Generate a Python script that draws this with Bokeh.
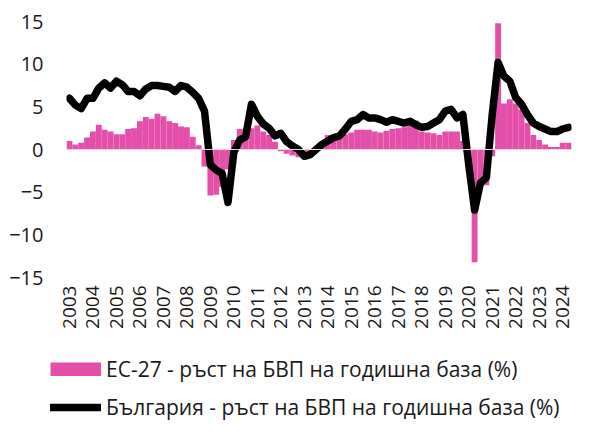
from bokeh.plotting import figure
from bokeh.models import Legend, LegendItem, Span, FixedTicker, Range1d, ColumnDataSource
from bokeh.layouts import column
from bokeh.embed import file_html
from bokeh.resources import INLINE
import math

# --- data (quarterly, 2003Q1 .. 2024Q2) ---
years = list(range(2003, 2025))
quarters = [f"{y}Q{q}" for y in years for q in range(1, 5)][:86]

eu27 = [
    1.0, 0.6, 0.8, 1.4,    # 2003
    2.1, 2.9, 2.3, 2.1,    # 2004
    1.8, 1.8, 2.4, 2.5,    # 2005
    3.3, 3.8, 3.6, 4.2,    # 2006
    3.9, 3.3, 3.1, 2.7,    # 2007
    2.6, 1.5, 0.5, -2.0,   # 2008
    -5.4, -5.3, -4.4, -2.3,  # 2009
    1.1, 2.4, 2.5, 2.5,    # 2010
    2.8, 2.1, 1.7, 0.9,    # 2011
    -0.2, -0.5, -0.7, -0.9,  # 2012
    -1.0, -0.3, 0.2, 0.6,  # 2013
    1.7, 1.4, 1.6, 1.8,    # 2014
    2.0, 2.3, 2.3, 2.3,    # 2015
    2.1, 2.0, 2.2, 2.4,    # 2016
    2.5, 2.6, 3.0, 3.4,    # 2017
    2.1, 2.0, 1.9, 1.7,    # 2018
    2.1, 2.1, 2.1, 1.0,    # 2019
    -2.6, -13.2, -4.0, -4.2,  # 2020
    -0.8, 14.8, 5.4, 5.9,  # 2021
    5.4, 4.7, 3.1, 1.7,    # 2022
    1.1, 0.6, 0.3, 0.3,    # 2023
    0.8, 0.8,              # 2024
]

bulgaria = [
    6.0, 5.2, 4.8, 6.0,    # 2003
    6.0, 7.2, 7.8, 7.2,    # 2004
    8.0, 7.6, 6.8, 6.8,    # 2005
    6.3, 7.1, 7.5, 7.5,    # 2006
    7.4, 7.3, 6.8, 7.5,    # 2007
    7.3, 6.7, 6.0, 4.5,    # 2008
    -1.8, -2.4, -2.8, -6.2,  # 2009
    -0.3, 1.1, 1.5, 5.3,   # 2010
    3.9, 3.0, 2.5, 1.6,    # 2011
    1.9, 0.9, 0.4, 0.0,    # 2012
    -0.8, -0.6, 0.0, 0.6,  # 2013
    1.0, 1.4, 1.6, 2.4,    # 2014
    3.3, 3.5, 4.1, 3.7,    # 2015
    3.7, 3.5, 3.2, 3.5,    # 2016
    3.3, 3.1, 3.3, 2.9,    # 2017
    2.6, 2.7, 3.1, 3.5,    # 2018
    4.5, 4.7, 3.7, 4.1,    # 2019
    -1.8, -7.1, -3.9, -3.3,  # 2020
    4.1, 10.2, 8.6, 8.0,   # 2021
    6.1, 5.3, 4.1, 3.1,    # 2022
    2.7, 2.4, 2.1, 2.1,    # 2023
    2.4, 2.6,              # 2024
]

year_labels = [str(y) for y in years]
y_ticks = [-15, -10, -5, 0, 5, 10, 15]

label_eu = "ЕС-27 - ръст на БВП на годишна база (%)"
label_bg = "България - ръст на БВП на годишна база (%)"

PINK = "#E44FA9"
FONT = "Open Sans"
TXT = "#1a1a1a"

idx = list(range(len(quarters)))
src = ColumnDataSource(dict(x=idx, q=quarters, eu=eu27, bg=bulgaria))

# ---------------- main chart ----------------
p = figure(
    width=574, height=340,
    min_border_left=66, min_border_right=3, min_border_top=21, min_border_bottom=63,
    x_range=Range1d(-0.5, len(quarters) - 0.5),
    y_range=Range1d(-15, 15),
    output_backend="svg", toolbar_location=None,
)
p.frame_align = False
p.outline_line_color = None
p.grid.visible = False
p.background_fill_color = "white"
p.border_fill_color = "white"

bars = p.vbar(x="x", top="eu", bottom=0, width=1.0, source=src,
              fill_color=PINK, line_color=None)

zero = Span(location=0, dimension="width", line_color="#efd3e4", line_width=1.2)
p.add_layout(zero)

line = p.line(x="x", y="bg", source=src, line_color="black", line_width=7.5,
              line_join="round", line_cap="round")

# y axis
p.yaxis.ticker = FixedTicker(ticks=y_ticks)
p.yaxis.axis_line_color = None
p.yaxis.major_tick_line_color = None
p.yaxis.minor_tick_line_color = None
p.yaxis.major_tick_out = 0
p.yaxis.major_tick_in = 0
p.yaxis.major_label_standoff = 23
p.yaxis.major_label_text_font = FONT
p.yaxis.major_label_text_font_size = "20px"
p.yaxis.major_label_text_color = TXT

# x axis
xt = [4 * k for k in range(len(years))]
p.xaxis.ticker = FixedTicker(ticks=xt)
p.xaxis.major_label_overrides = {t: lab for t, lab in zip(xt, year_labels)}
p.xaxis.major_label_orientation = math.pi / 2
p.xaxis.axis_line_color = None
p.xaxis.major_tick_line_color = None
p.xaxis.minor_tick_line_color = None
p.xaxis.major_tick_out = 0
p.xaxis.major_tick_in = 0
p.xaxis.major_label_standoff = 8
p.xaxis.major_label_text_font = FONT
p.xaxis.major_label_text_font_size = "19px"
p.xaxis.major_label_text_color = TXT

# ---------------- legend strip ----------------
p2 = figure(
    width=574, height=82,
    min_border=0, min_border_left=0, min_border_right=0, min_border_top=0, min_border_bottom=0,
    x_range=Range1d(0, 1), y_range=Range1d(0, 1),
    x_axis_location=None, y_axis_location=None,
    output_backend="svg", toolbar_location=None,
)
p2.frame_align = False
p2.grid.visible = False
p2.outline_line_color = None
p2.background_fill_color = "white"
p2.border_fill_color = "white"

# legend keys: their points lie outside the strip's visible range, so only the
# legend swatches are seen
key_eu = p2.line(x=[-5, -4], y=[-5, -5], line_color=PINK, line_width=14, line_cap="butt")
key_bg = p2.line(x=[-5, -4], y=[-5, -5], line_color="black", line_width=7.5, line_cap="round")

lg = Legend(items=[LegendItem(label=label_eu, renderers=[key_eu]),
                   LegendItem(label=label_bg, renderers=[key_bg])],
            location=(50, 1), orientation="vertical",
            glyph_width=51, glyph_height=14, label_standoff=5,
            padding=0, margin=0, spacing=10,
            border_line_color=None, background_fill_alpha=0,
            label_text_font=FONT, label_text_font_size="21px",
            label_text_color=TXT)
p2.add_layout(lg)

layout = column(p, p2, spacing=0)
open("out.html", "w").write(file_html(layout, INLINE))
